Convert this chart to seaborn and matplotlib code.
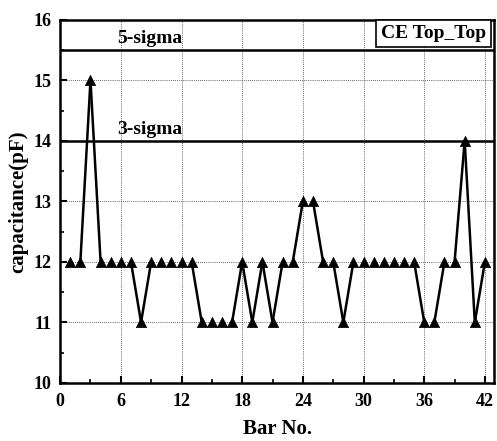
import numpy as np
import pandas as pd
import matplotlib
matplotlib.use("Agg")
import matplotlib.pyplot as plt
import seaborn as sns
from matplotlib.ticker import MultipleLocator

# ---- data ----
bar_no = list(range(1, 43))
capacitance = [12, 12, 15, 12, 12, 12, 12, 11, 12, 12,
               12, 12, 12, 11, 11, 11, 11, 12, 11, 12,
               11, 12, 12, 13, 13, 12, 12, 11, 12, 12,
               12, 12, 12, 12, 12, 11, 11, 12, 12, 14,
               11, 12]
sigma_levels = [15.5, 14.0]
sigma_labels = ["5-sigma", "3-sigma"]
legend_label = "CE Top_Top"
x_ticks = [0, 6, 12, 18, 24, 30, 36, 42]
y_ticks = [10, 11, 12, 13, 14, 15, 16]

sns.set_style("ticks")
plt.rcParams['font.family'] = ['Liberation Serif', 'DejaVu Serif']
plt.rcParams['font.weight'] = 'bold'
for k in ['text.color', 'axes.labelcolor', 'xtick.color', 'ytick.color', 'axes.edgecolor']:
    plt.rcParams[k] = 'black'

df = pd.DataFrame({"bar": bar_no, "cap": capacitance})

# segments (only drawn between differing values, like the reference)
seg_rows = []
for i in range(len(bar_no) - 1):
    if capacitance[i] != capacitance[i + 1]:
        seg_rows.append((i, bar_no[i], capacitance[i]))
        seg_rows.append((i, bar_no[i + 1], capacitance[i + 1]))
seg = pd.DataFrame(seg_rows, columns=["seg", "bar", "cap"])

fig = plt.figure(figsize=(4.97, 4.41), dpi=100)
ax = fig.add_axes([0.121, 0.132, 0.873, 0.823])

ax.grid(True, which='major', linestyle=(0, (1, 1.5)), color='black', linewidth=0.6, alpha=0.8)

sns.lineplot(data=seg, x="bar", y="cap", units="seg", estimator=None,
             color='black', linewidth=1.8, ax=ax, legend=False)
sns.scatterplot(data=df, x="bar", y="cap", marker='^', s=55, color='black',
                edgecolor='black', linewidth=0.5, ax=ax, legend=False, zorder=5)

for lvl, lab in zip(sigma_levels, sigma_labels):
    ax.axhline(lvl, color='black', linewidth=1.8, zorder=4)
    ax.text(5.6, lvl + 0.05, lab, fontsize=14, fontweight='bold', ha='left', va='bottom')

ax.text(0.982, 0.985, legend_label, transform=ax.transAxes, fontsize=14,
        fontweight='bold', ha='right', va='top',
        bbox=dict(boxstyle='square,pad=0.25', facecolor='white', edgecolor='black', linewidth=1.2))

ax.set_xlim(0, 42.9)
ax.set_ylim(10, 16)
ax.set_xticks(x_ticks)
ax.set_yticks(y_ticks)
ax.xaxis.set_minor_locator(MultipleLocator(3))
ax.yaxis.set_minor_locator(MultipleLocator(0.5))
ax.tick_params(which='major', direction='in', length=5, width=1.5, labelsize=13,
               top=False, right=False)
ax.tick_params(axis='x', which='major', pad=7)
ax.tick_params(axis='y', which='major', pad=6)
ax.tick_params(which='minor', direction='in', length=3, width=1.2, top=False, right=False)
for lbl in ax.get_xticklabels() + ax.get_yticklabels():
    lbl.set_fontweight('bold')

for sp in ax.spines.values():
    sp.set_linewidth(1.8)
    sp.set_color('black')

ax.set_xlabel("Bar No.", fontsize=15, fontweight='bold', labelpad=7)
ax.set_ylabel("capacitance(pF)", fontsize=15, fontweight='bold', labelpad=4)

fig.savefig("out.png", dpi=100)
